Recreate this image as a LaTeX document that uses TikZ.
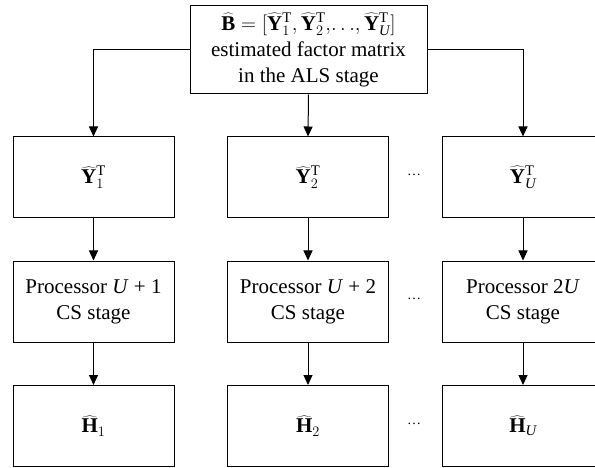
\documentclass[tikz,border=0pt]{standalone}
\usepackage{fontspec}
\setmainfont{Liberation Serif}
\usetikzlibrary{arrows.meta}

\begin{document}
\begin{tikzpicture}[x=1pt,y=-1pt,
  box/.style={draw, line width=1pt, minimum width=161pt, minimum height=81pt,
    align=center, inner sep=0pt, font=\fontsize{21}{26}\selectfont},
  conn/.style={line width=1pt, -{Triangle[length=10pt,width=9pt]}},
  gapdots/.style={font=\fontsize{14}{16}\selectfont}]
\useasboundingbox (0,0) rectangle (595,468);
\clip (0,0) rectangle (595,468);

% source matrix
\node[box, minimum width=237pt, minimum height=88pt] (top) at (308.5,50)
  {$\widehat{\mathbf{B}}=[\widehat{\mathbf{Y}}_1^{\mathrm{T}},\widehat{\mathbf{Y}}_2^{\mathrm{T}},\!\dots\!,\widehat{\mathbf{Y}}_{\mathit{U}}^{\mathrm{T}}]$\\
   estimated factor matrix\\in the ALS stage};

% factor blocks
\node[box] (y1) at (93.5,177.5) {$\widehat{\mathbf{Y}}_1^{\mathrm{T}}$};
\node[box] (y2) at (308,177.5)  {$\widehat{\mathbf{Y}}_2^{\mathrm{T}}$};
\node[box] (yu) at (523,177.5)  {$\widehat{\mathbf{Y}}_{\mathit{U}}^{\mathrm{T}}$};

% processors
\node[box] (p1) at (93.5,301.5) {Processor \textit{U} + 1\\CS stage};
\node[box] (p2) at (308,301.5)  {Processor \textit{U} + 2\\CS stage};
\node[box] (pu) at (523,301.5)  {Processor 2\textit{U}\\CS stage};

% results
\node[box] (h1) at (93.5,426) {$\widehat{\mathbf{H}}_1$};
\node[box] (h2) at (308,426)  {$\widehat{\mathbf{H}}_2$};
\node[box] (hu) at (523,426)  {$\widehat{\mathbf{H}}_{\mathit{U}}$};

% ellipses between the second and last columns
\node[gapdots] (d1) at (414,175) {\dots};
\node[gapdots] (d2) at (414,299) {\dots};
\node[gapdots] (d3) at (414,424) {\dots};

% connectors
\draw[conn] (top.west) -| (y1.north);
\draw[conn] (top.south) -- (y2.north);
\draw[conn] (top.east) -| (yu.north);
\draw[conn] (y1) -- (p1);
\draw[conn] (y2) -- (p2);
\draw[conn] (yu) -- (pu);
\draw[conn] (p1) -- (h1);
\draw[conn] (p2) -- (h2);
\draw[conn] (pu) -- (hu);
\end{tikzpicture}
\end{document}
